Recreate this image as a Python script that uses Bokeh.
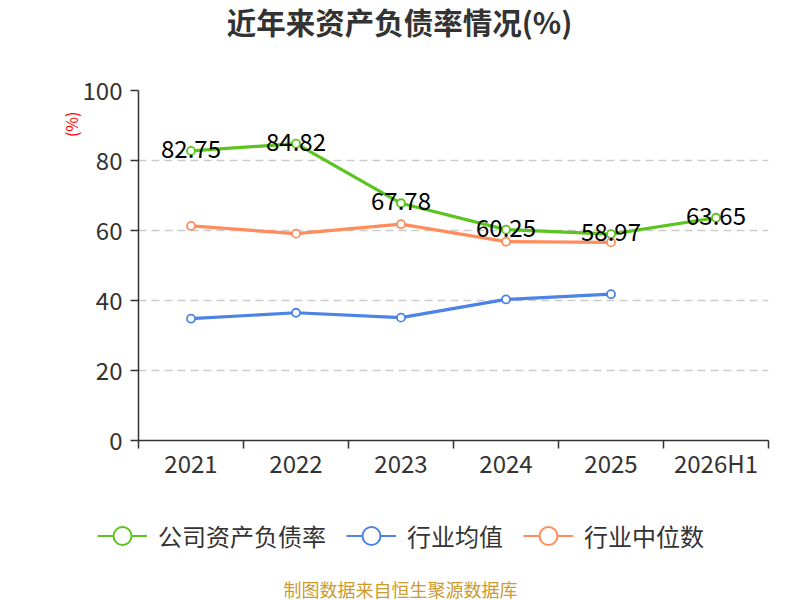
import math
from bokeh.plotting import figure
from bokeh.layouts import column
from bokeh.models import Range1d, FixedTicker, Label, Legend, LegendItem, ColumnDataSource, Title
from bokeh.core.properties import value
from bokeh.embed import file_html
from bokeh.resources import INLINE

categories = ["2021", "2022", "2023", "2024", "2025", "2026H1"]
company = [82.75, 84.82, 67.78, 60.25, 58.97, 63.65]
industry_avg = [34.8, 36.5, 35.1, 40.3, 41.8]
industry_median = [61.3, 59.1, 61.8, 56.8, 56.6]
y_ticks = [0, 20, 40, 60, 80, 100]
company_labels = ["82.75", "84.82", "67.78", "60.25", "58.97", "63.65"]
series_names = ["公司资产负债率", "行业均值", "行业中位数"]

FONT = "Noto Sans CJK SC"
GREEN = "#5bc41f"
BLUE = "#4c83e4"
ORANGE = "#ff8c5a"
TXT = "#333333"

W = 800
TOP_H = 70
BOT_H = 110


def blank_fig(h):
    f = figure(width=W, height=h, x_range=Range1d(0, W), y_range=Range1d(0, h),
               output_backend="svg", toolbar_location=None, min_border=0,
               x_axis_location=None, y_axis_location=None)
    f.frame_align = False
    f.outline_line_color = None
    f.xgrid.visible = False
    f.ygrid.visible = False
    return f


# ---- title strip
top = blank_fig(TOP_H)
top.add_layout(Label(x=399, y=TOP_H - 20, text="近年来资产负债率情况(%)",
                     text_font=FONT, text_font_size="29.5px", text_font_style="bold",
                     text_color=TXT, text_align="center", text_baseline="middle"))

# ---- main chart
xc = [i + 0.5 for i in range(len(categories))]
p = figure(width=W, height=420, x_range=Range1d(0, len(categories)), y_range=Range1d(0, 100),
           output_backend="svg", toolbar_location=None,
           min_border_left=138, min_border_right=32, min_border_top=20, min_border_bottom=50)
p.frame_align = False
p.outline_line_color = None

xa = p.xaxis[0]
xa.ticker = FixedTicker(ticks=xc, minor_ticks=list(range(len(categories) + 1)))
xa.major_label_overrides = {x: c for x, c in zip(xc, categories)}
xa.major_tick_in = 0
xa.major_tick_out = 0
xa.minor_tick_in = 0
xa.minor_tick_out = 8
xa.minor_tick_line_color = TXT
xa.minor_tick_line_width = 1.5
xa.axis_line_color = TXT
xa.axis_line_width = 1.5
xa.major_label_standoff = -4
xa.major_label_text_font = FONT
xa.major_label_text_font_size = "24px"
xa.major_label_text_color = TXT

ya = p.yaxis[0]
ya.ticker = FixedTicker(ticks=y_ticks)
ya.major_tick_in = 0
ya.major_tick_out = 8
ya.minor_tick_line_color = None
ya.major_tick_line_color = TXT
ya.major_tick_line_width = 1.5
ya.axis_line_color = TXT
ya.axis_line_width = 1.5
ya.major_label_standoff = 8
ya.major_label_text_font = FONT
ya.major_label_text_font_size = "24px"
ya.major_label_text_color = TXT

p.xgrid.visible = False
p.ygrid.ticker = FixedTicker(ticks=y_ticks[1:])
p.ygrid.grid_line_color = "#cccccc"
p.ygrid.grid_line_dash = "8 5"
p.ygrid.grid_line_width = 1.5

colors = [GREEN, BLUE, ORANGE]
for vals, col in zip([company, industry_avg, industry_median], colors):
    src = ColumnDataSource(dict(x=xc[:len(vals)], y=vals))
    p.line("x", "y", source=src, line_color=col, line_width=3.2)
    p.scatter("x", "y", source=src, size=8, fill_color="white", line_color=col, line_width=1.8)

lab_src = ColumnDataSource(dict(x=xc, y=company, t=company_labels))
p.text("x", "y", text="t", source=lab_src, text_font=value(FONT), text_font_size="24px",
       text_color="black", text_align="center", text_baseline="middle", y_offset=-2)

p.add_layout(Title(text="(%)", align="right", offset=21, standoff=-6,
                   text_font=FONT, text_font_size="16px", text_font_style="normal",
                   text_color="red"), "left")

# ---- legend + source strip
bot = blank_fig(BOT_H)
items = []
for name, col in zip(series_names, colors):
    dsrc = ColumnDataSource(dict(x=[-100], y=[-100]))
    lr = bot.line("x", "y", source=dsrc, line_color=col, line_width=2)
    sr = bot.scatter("x", "y", source=dsrc, size=18, fill_color="white", line_color=col, line_width=2)
    items.append(LegendItem(label=name, renderers=[lr, sr]))
legend = Legend(items=items, orientation="horizontal", location=(97, BOT_H - 68),
                glyph_width=50, glyph_height=45, label_standoff=11, spacing=20,
                padding=0, margin=0, border_line_color=None, background_fill_alpha=0,
                label_text_font=FONT, label_text_font_size="24px", label_text_color=TXT,
                label_text_baseline="middle")
bot.add_layout(legend, "center")
bot.add_layout(Label(x=400, y=BOT_H - 98, text="制图数据来自恒生聚源数据库",
                     text_font=FONT, text_font_size="18px", text_color="#cc9a2e",
                     text_align="center", text_baseline="middle"))

layout = column(top, p, bot, spacing=0)
open("out.html", "w").write(file_html(layout, INLINE))
